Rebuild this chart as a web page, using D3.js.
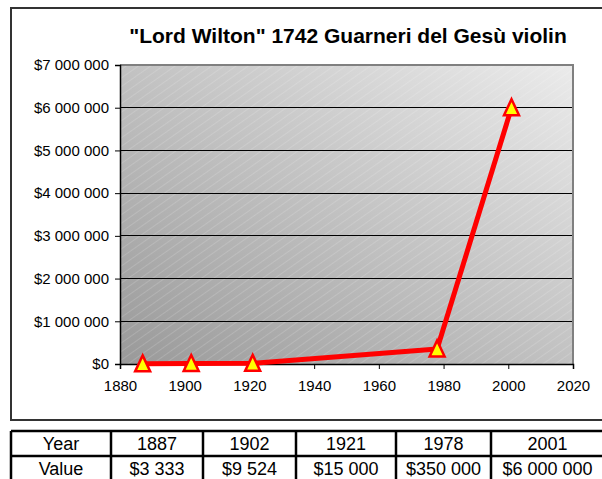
<!DOCTYPE html>
<html><head><meta charset="utf-8">
<script src="https://cdn.jsdelivr.net/npm/d3@7"></script>
<style>
html,body{margin:0;padding:0;background:#fff;overflow:hidden}
svg{display:block;font-family:"Liberation Sans",Arial,sans-serif}
</style></head><body>
<svg id="c" width="602" height="479"></svg>
<script>
const years = [1887, 1902, 1921, 1978, 2001];
const values = [3333, 9524, 15000, 350000, 6000000];
const valueLabels = ["$3 333", "$9 524", "$15 000", "$350 000", "$6 000 000"];
const xTicks = [1880, 1900, 1920, 1940, 1960, 1980, 2000, 2020];
const yTicks = [0, 1e6, 2e6, 3e6, 4e6, 5e6, 6e6, 7e6];
const title = "\"Lord Wilton\" 1742 Guarneri del Gesù violin";

const svg = d3.select("#c");
const x = d3.scaleLinear().domain([1880, 2020]).range([120, 573]);
const y = d3.scaleLinear().domain([0, 7e6]).range([364, 65]);
const fmt = v => "$" + d3.format(",")(v).replace(/,/g, " ");

const defs = svg.append("defs");
const g = defs.append("linearGradient").attr("id","bg")
  .attr("x1","0").attr("y1","1").attr("x2","1").attr("y2","0");
g.append("stop").attr("offset","0").attr("stop-color","#999999");
g.append("stop").attr("offset","1").attr("stop-color","#ebebeb");
const pat = defs.append("pattern").attr("id","hatch").attr("patternUnits","userSpaceOnUse")
  .attr("width",7).attr("height",7).attr("patternTransform","rotate(55)");
pat.append("line").attr("x1",0).attr("y1",0).attr("x2",0).attr("y2",7)
  .attr("stroke","#fff").attr("stroke-opacity",0.3).attr("stroke-width",1);

// outer chart frame
svg.append("rect").attr("x",11).attr("y",8).attr("width",600).attr("height",412)
  .attr("fill","#fff").attr("stroke","#333").attr("stroke-width",2);

// plot background
const [x0,x1] = x.range(), [y0,y1] = y.range();
svg.append("rect").attr("x",x0).attr("y",y1).attr("width",x1-x0).attr("height",y0-y1).attr("fill","url(#bg)");
svg.append("rect").attr("x",x0).attr("y",y1).attr("width",x1-x0).attr("height",y0-y1).attr("fill","url(#hatch)");

// gridlines
svg.append("g").selectAll("line").data(yTicks.filter(d=>d>0 && d<7e6)).join("line")
  .attr("x1",x0).attr("x2",x1).attr("y1",d=>y(d)).attr("y2",d=>y(d))
  .attr("stroke","#000").attr("stroke-width",1).attr("shape-rendering","crispEdges");
// plot border top/right grey
svg.append("path").attr("d",`M${x0},${y1}H${x1}V${y0}`).attr("fill","none")
  .attr("stroke","#808080").attr("stroke-width",2);

// axes
const yAxis = d3.axisLeft(y).tickValues(yTicks).tickFormat(fmt).tickSize(5).tickPadding(6);
const ya = svg.append("g").attr("transform",`translate(${x0},0)`).call(yAxis);
const xAxis = d3.axisBottom(x).tickValues(xTicks).tickFormat(d3.format("d")).tickSize(5).tickPadding(11);
const xa = svg.append("g").attr("transform",`translate(0,${y0})`).call(xAxis);
[ya,xa].forEach(a=>{
  a.attr("font-size",15).attr("font-family","Liberation Sans, Arial, sans-serif");
  a.select(".domain").attr("stroke","#000").attr("stroke-width",1.5);
  a.selectAll(".tick line").attr("stroke","#000");
  a.selectAll("text").attr("fill","#000");
});

// title
svg.append("text").attr("x",348).attr("y",43).attr("text-anchor","middle")
  .attr("font-size",21).attr("font-weight","bold").text(title);

// line
const pts = years.map((yr,i)=>[yr, values[i]]);
svg.append("path").datum(pts).attr("fill","none").attr("stroke","#ff0000")
  .attr("stroke-width",5).attr("stroke-linejoin","round")
  .attr("d", d3.line().x(d=>x(d[0])).y(d=>y(d[1])));
svg.append("g").selectAll("path").data(pts).join("path")
  .attr("transform",d=>`translate(${x(d[0])},${y(d[1])})`)
  .attr("d","M0,-8.5L7.5,7.5L-7.5,7.5Z")
  .attr("fill","#ffff00").attr("stroke","#ff0000").attr("stroke-width",2.5).attr("stroke-linejoin","miter");

// table
const colX = [11, 111, 203, 296, 396, 491, 620];
const rows = [["Year", ...years.map(String)], ["Value", ...valueLabels]];
const rowY = [431, 456, 481];
const t = svg.append("g");
rows.forEach((r,ri)=>{
  r.forEach((txt,ci)=>{
    t.append("text").attr("x",(colX[ci]+Math.min(colX[ci+1],604))/2)
      .attr("y",rowY[ri]+19).attr("text-anchor","middle").attr("font-size",18).text(txt);
  });
});
t.selectAll("line.h").data(rowY).join("line").attr("x1",colX[0]).attr("x2",620)
  .attr("y1",d=>d).attr("y2",d=>d).attr("stroke","#000").attr("stroke-width",2.5);
t.selectAll("line.v").data(colX.slice(0,6)).join("line").attr("x1",d=>d).attr("x2",d=>d)
  .attr("y1",rowY[0]).attr("y2",490).attr("stroke","#000").attr("stroke-width",2.5);
</script></body></html>
